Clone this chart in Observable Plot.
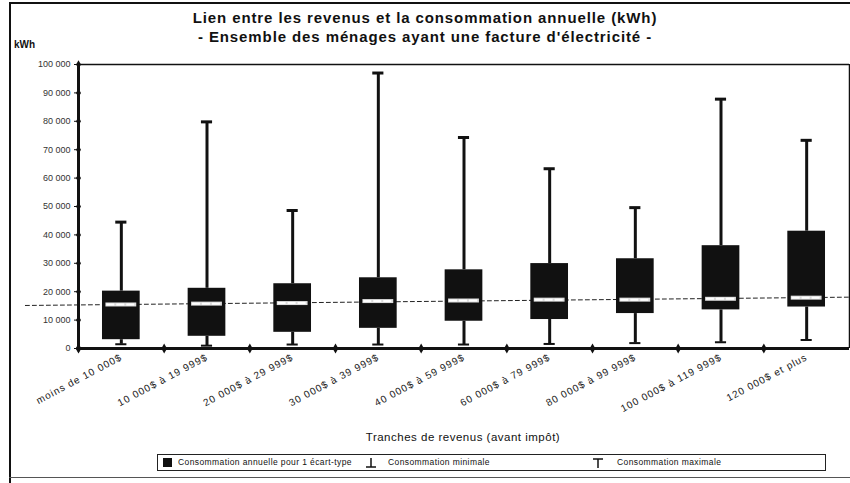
<!DOCTYPE html>
<html><head><meta charset="utf-8">
<script src="https://cdn.jsdelivr.net/npm/d3@7"></script>
<script src="https://cdn.jsdelivr.net/npm/@observablehq/plot@0.6"></script>
<style>
body{margin:0;background:#fff;font-family:"Liberation Sans",Arial,sans-serif;color:#111;}
#wrap{position:relative;width:850px;height:483px;overflow:hidden;background:#fff;}
#chart{position:absolute;left:0;top:0;}
.t{position:absolute;white-space:nowrap;}
#title{left:0;width:850px;text-align:center;top:10px;font-size:15px;line-height:15px;font-weight:bold;letter-spacing:0.9px;}
#subtitle{left:0;width:850px;text-align:center;top:29px;font-size:15px;line-height:15px;font-weight:bold;letter-spacing:0.9px;}
#unit{left:14px;top:40px;font-size:10px;line-height:10px;font-weight:bold;}
#xtitle{left:78px;width:770px;text-align:center;top:431px;font-size:11.5px;line-height:12px;letter-spacing:0.5px;}
#legend{position:absolute;left:157px;top:454px;width:667px;height:15px;border:1px solid #222;font-size:8.5px;}
#legend .it{position:absolute;top:3px;line-height:9px;white-space:nowrap;letter-spacing:0.4px;}
.bl{position:absolute;background:#111;}
g[aria-label="x-axis tick label"] text{letter-spacing:1px;}
</style></head><body>
<div id="wrap">
<div id="chart"></div>
<div class="bl" style="left:9px;top:2px;width:2px;height:481px;"></div>
<div class="bl" style="left:9px;top:2px;width:841px;height:2px;"></div>
<div class="bl" style="left:9px;top:477px;width:841px;height:1px;background:#555;"></div>
<div class="t" id="title">Lien entre les revenus et la consommation annuelle (kWh)</div>
<div class="t" id="subtitle">- Ensemble des ménages ayant une facture d'électricité -</div>
<div class="t" id="unit">kWh</div>
<div class="t" id="xtitle">Tranches de revenus (avant impôt)</div>
<div id="legend">
  <div style="position:absolute;left:5px;top:3px;width:9px;height:9px;background:#111;"></div>
  <div class="it" style="left:20px;">Consommation annuelle pour 1 écart-type</div>
  <svg style="position:absolute;left:207px;top:2px;" width="12" height="12"><line x1="6" y1="1" x2="6" y2="10" stroke="#111" stroke-width="1.5"/><line x1="1" y1="10" x2="11" y2="10" stroke="#111" stroke-width="1.5"/></svg>
  <div class="it" style="left:230px;">Consommation minimale</div>
  <svg style="position:absolute;left:434px;top:2px;" width="12" height="12"><line x1="6" y1="2" x2="6" y2="11" stroke="#111" stroke-width="1.5"/><line x1="1" y1="2" x2="11" y2="2" stroke="#111" stroke-width="1.5"/></svg>
  <div class="it" style="left:459px;">Consommation maximale</div>
</div>
</div>
<script>
const categories = ["moins de 10 000$","10 000$ à 19 999$","20 000$ à 29 999$","30 000$ à 39 999$","40 000$ à 59 999$","60 000$ à 79 999$","80 000$ à 99 999$","100 000$ à 119 999$","120 000$ et plus"];
const lowValues  = [3100, 4300, 5700, 7100, 9600, 10200, 12300, 13600, 14600];
const highValues = [20200, 21200, 22800, 24900, 27700, 29900, 31600, 36200, 41300];
const maxValues  = [44500, 79800, 48600, 97000, 74300, 63300, 49600, 87800, 73300];
const minValues  = [1500, 1000, 1400, 1400, 1400, 1600, 1900, 2200, 3000];
const meanValues = [15500, 15800, 16000, 16700, 16900, 17200, 17200, 17500, 17900];
const trendX = [-1.12, 8.5];
const trendY = [15150, 18080];
const yTicks = d3.range(0, 100001, 10000);

const data = categories.map((c, i) => ({i, c, low: lowValues[i], high: highValues[i], max: maxValues[i], min: minValues[i], mean: meanValues[i]}));
const trend = trendX.map((x, k) => ({x, y: trendY[k]}));
const fmt = d => d3.format(",")(d).replace(/,/g, " ");
const bw = 0.22, cw = 0.065;

const plot = Plot.plot({
  width: 850, height: 483,
  marginTop: 64, marginBottom: 135, marginLeft: 78, marginRight: 1,
  style: {fontFamily: "'Liberation Sans', Arial, sans-serif", background: "transparent"},
  x: {domain: [-0.5, 8.5]},
  y: {domain: [0, 100000]},
  marks: [
    Plot.ruleY([100000], {stroke: "#111", strokeWidth: 1.5}),
    Plot.ruleX([8.5], {stroke: "#111", strokeWidth: 1.5}),
    Plot.line(trend, {x: "x", y: "y", stroke: "#222", strokeWidth: 1, strokeDasharray: "4,3"}),
    Plot.ruleX(data, {x: "i", y1: "high", y2: "max", stroke: "#111", strokeWidth: 3}),
    Plot.ruleY(data, {y: "max", x1: d => d.i - cw, x2: d => d.i + cw, stroke: "#111", strokeWidth: 3}),
    Plot.ruleX(data, {x: "i", y1: "min", y2: "low", stroke: "#111", strokeWidth: 3}),
    Plot.ruleY(data, {y: "min", x1: d => d.i - cw, x2: d => d.i + cw, stroke: "#111", strokeWidth: 2}),
    Plot.rect(data, {x1: d => d.i - bw, x2: d => d.i + bw, y1: "low", y2: "high", fill: "#111"}),
    Plot.ruleY(data, {y: "mean", x1: d => d.i - 0.18, x2: d => d.i + 0.18, stroke: "#ddd", strokeWidth: 4}),
    Plot.ruleY(data, {y: "mean", x1: d => d.i - 0.17, x2: d => d.i + 0.17, stroke: "white", strokeWidth: 2, strokeDasharray: "8,2"}),
    Plot.ruleX([-0.5], {stroke: "#111", strokeWidth: 3}),
    Plot.ruleY([0], {stroke: "#111", strokeWidth: 3}),
    Plot.dot(yTicks, {x: -0.5, y: d => d, symbol: "diamond", r: 2.6, fill: "#111"}),
    Plot.dot(d3.range(-0.5, 8, 1), {x: d => d, y: 0, symbol: "diamond", r: 3, fill: "#111"}),
    Plot.axisY({ticks: yTicks, tickFormat: fmt, tickSize: 4, tickPadding: 4, fontSize: 9, fill: "#333", label: null}),
    Plot.axisX({ticks: d3.range(9), tickFormat: i => categories[i], tickRotate: -28, tickSize: 0, tickPadding: 8, fontSize: 10, fill: "#222", label: null})
  ]
});
document.getElementById("chart").appendChild(plot);
</script>
</body></html>
